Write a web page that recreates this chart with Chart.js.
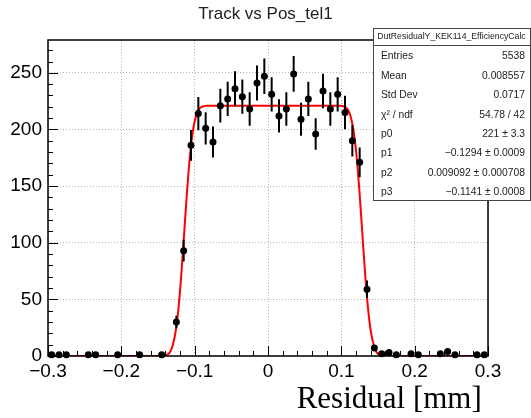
<!DOCTYPE html>
<html lang="en">
<head>
<meta charset="UTF-8">
<title>Track vs Pos_tel1</title>
<style>
    body { margin: 0; background: #fff; }
    canvas { display: block; }
</style>
<script src="https://cdn.jsdelivr.net/npm/chart.js@4.4.0/dist/chart.umd.min.js"></script>
</head>
<body>
<canvas id="fitChart" width="531" height="418"></canvas>
<script>
    // filled bins of the residual histogram (bin width 0.01 mm)
    const binCenters = [-0.295, -0.285, -0.275, -0.245, -0.235, -0.205, -0.175, -0.145,
        -0.125, -0.115, -0.105, -0.095, -0.085, -0.075, -0.065, -0.055, -0.045, -0.035,
        -0.025, -0.015, -0.005, 0.005, 0.015, 0.025, 0.035, 0.045, 0.055, 0.065, 0.075,
        0.085, 0.095, 0.105, 0.115, 0.125, 0.135, 0.145, 0.155, 0.165, 0.175, 0.195,
        0.205, 0.235, 0.245, 0.255, 0.285, 0.295];
    const counts = [1, 1, 1, 1, 1, 1, 1, 1,
        30, 93, 186, 214, 201, 189, 221, 227, 236, 229,
        218, 241, 247, 231, 212, 218, 249, 209, 227, 196, 234,
        218, 231, 215, 190, 171, 59, 7, 2, 3, 1, 2,
        1, 2, 4, 1, 1, 1];
    const errors = [1, 1, 1, 1, 1, 1, 1, 1,
        5.5, 9.6, 13.6, 14.6, 14.2, 13.7, 14.9, 15.1, 15.4, 15.1,
        14.8, 15.5, 15.7, 15.2, 14.6, 14.8, 15.8, 14.5, 15.1, 14.0, 15.3,
        14.8, 15.2, 14.7, 13.8, 13.1, 7.7, 2.6, 1.4, 1.7, 1, 1.4,
        1, 1.4, 2, 1, 1, 1];

    // fit curve
    const fitX = [-0.3, -0.1441, -0.1391, -0.1341, -0.1301, -0.1261, -0.1221, -0.1181,
        -0.1141, -0.1101, -0.1061, -0.1021, -0.0981, -0.0941, -0.0891, -0.0841, -0.08,
        0.08, 0.0984, 0.1034, 0.1084, 0.1124, 0.1164, 0.1204, 0.1244, 0.1284, 0.1324,
        0.1364, 0.1404, 0.1444, 0.1484, 0.1534, 0.1584, 0.3];
    const fitY = [0, 0.1, 0.7, 3, 9, 21, 42, 73,
        110.5, 148, 179, 200, 212, 218, 220.3, 220.9, 221,
        221, 220.9, 220.3, 218, 212, 200, 179, 148, 110.5, 73,
        42, 21, 9, 3, 0.7, 0.1, 0];

    const yMax = 279;

    // stats box
    const statsTitle = 'DutResidualY_KEK114_EfficiencyCalc';
    const statLabels = ['Entries', 'Mean', 'Std Dev', 'χ² / ndf', 'p0', 'p1', 'p2', 'p3'];
    const statValues = ['5538', '0.008557', '0.0717', '54.78 / 42', '221 ± 3.3',
        '\u22120.1294 ± 0.0009', '0.009092 ± 0.000708', '\u22120.1141 ± 0.0008'];

    const sans = 'Liberation Sans';

    function fmtTick(v) {
        const r = Math.round(v * 10) / 10;
        return r === 0 ? '0' : String(r).replace('-', '\u2212');
    }

    // ROOT-like frame, inner ticks, error bars and stats box
    const rootStyle = {
        id: 'rootStyle',
        beforeDatasetDraw(chart, args) {
            if (args.index !== 0) return;
            const {ctx, scales: {x, y}} = chart;
            ctx.save();
            ctx.strokeStyle = '#000';
            ctx.lineWidth = 2;
            ctx.beginPath();
            binCenters.forEach((c, i) => {
                const px = x.getPixelForValue(c);
                ctx.moveTo(px, y.getPixelForValue(counts[i] - errors[i]));
                ctx.lineTo(px, y.getPixelForValue(counts[i] + errors[i]));
            });
            ctx.stroke();
            ctx.restore();
        },
        afterDraw(chart) {
            const {ctx, chartArea: a, scales: {x, y}} = chart;
            ctx.save();
            ctx.strokeStyle = '#000';
            ctx.lineWidth = 1;
            ctx.beginPath();
            for (let k = -15; k <= 15; k++) {
                const px = Math.round(x.getPixelForValue(k * 0.02)) + 0.5;
                const len = k % 5 === 0 ? 10 : 5;
                ctx.moveTo(px, a.bottom);
                ctx.lineTo(px, a.bottom - len);
            }
            for (let v = 0; v <= 270; v += 10) {
                const py = Math.round(y.getPixelForValue(v)) + 0.5;
                const len = v % 50 === 0 ? 10 : 5;
                ctx.moveTo(a.left, py);
                ctx.lineTo(a.left + len, py);
            }
            ctx.stroke();
            ctx.lineWidth = 1.5;
            ctx.strokeRect(a.left, a.top, a.right - a.left, a.bottom - a.top);

            // stats box
            const bx = 373, by = 28, bw = 157, bh = 172;
            ctx.fillStyle = '#fff';
            ctx.fillRect(bx, by, bw, bh);
            ctx.lineWidth = 1;
            ctx.strokeStyle = '#444';
            ctx.strokeRect(bx + 0.5, by + 0.5, bw, bh);
            ctx.beginPath();
            ctx.moveTo(bx, by + 17.5);
            ctx.lineTo(bx + bw, by + 17.5);
            ctx.stroke();
            ctx.fillStyle = '#222';
            ctx.textBaseline = 'middle';
            ctx.textAlign = 'center';
            ctx.font = '8.7px "' + sans + '"';
            ctx.fillText(statsTitle, bx + bw / 2, by + 9);
            ctx.font = '10.3px "' + sans + '"';
            statLabels.forEach((lab, i) => {
                const ty = 56.5 + i * 19.4;
                ctx.textAlign = 'left';
                ctx.fillText(lab, bx + 8, ty);
                ctx.textAlign = 'right';
                ctx.fillText(statValues[i], bx + bw - 5, ty);
            });
            ctx.restore();
        }
    };

    const ctx = document.getElementById('fitChart').getContext('2d');
    const fitChart = new Chart(ctx, {
        type: 'scatter',
        data: {
            datasets: [
                {
                    label: 'data',
                    data: binCenters.map((c, i) => ({x: c, y: counts[i]})),
                    backgroundColor: '#000',
                    borderWidth: 0,
                    pointRadius: 3.5,
                    pointHoverRadius: 3.5,
                    clip: false,
                    order: 0
                },
                {
                    type: 'line',
                    label: 'fit',
                    data: fitX.map((v, i) => ({x: v, y: fitY[i]})),
                    borderColor: '#ff0000',
                    borderWidth: 2,
                    pointRadius: 0,
                    fill: false,
                    cubicInterpolationMode: 'monotone',
                    order: 1
                }
            ]
        },
        options: {
            responsive: false,
            animation: false,
            events: [],
            layout: {padding: 0},
            plugins: {
                legend: {display: false},
                tooltip: {enabled: false},
                title: {
                    display: true,
                    text: 'Track vs Pos_tel1',
                    color: '#222',
                    font: {family: sans, size: 17, weight: 'normal'},
                    padding: {top: 4, bottom: 15.6}
                }
            },
            scales: {
                x: {
                    type: 'linear',
                    min: -0.3,
                    max: 0.3,
                    ticks: {
                        stepSize: 0.1,
                        padding: 4,
                        color: '#000',
                        maxRotation: 0,
                        autoSkip: false,
                        font: {family: sans, size: 19},
                        callback: fmtTick
                    },
                    grid: {color: '#b4b4b4', drawTicks: false},
                    border: {display: false, dash: [1, 2]},
                    title: {
                        display: true,
                        text: 'Residual [mm]\u2009',
                        align: 'end',
                        color: '#000',
                        font: {family: 'Liberation Serif', size: 31},
                        padding: 0
                    },
                    afterFit: s => { s.height = 62; }
                },
                y: {
                    min: 0,
                    max: yMax,
                    ticks: {
                        stepSize: 50,
                        padding: 6,
                        color: '#000',
                        font: {family: sans, size: 19}
                    },
                    afterBuildTicks: s => {
                        s.ticks = s.ticks.filter(t => t.value % 50 === 0);
                    },
                    grid: {color: '#b4b4b4', drawTicks: false},
                    border: {display: false, dash: [1, 2]},
                    afterFit: s => { s.width = 48; }
                },
                y2: {
                    position: 'right',
                    grid: {display: false},
                    border: {display: false},
                    ticks: {display: false},
                    afterFit: s => { s.width = 43; }
                }
            }
        },
        plugins: [rootStyle]
    });
</script>
</body>
</html>
